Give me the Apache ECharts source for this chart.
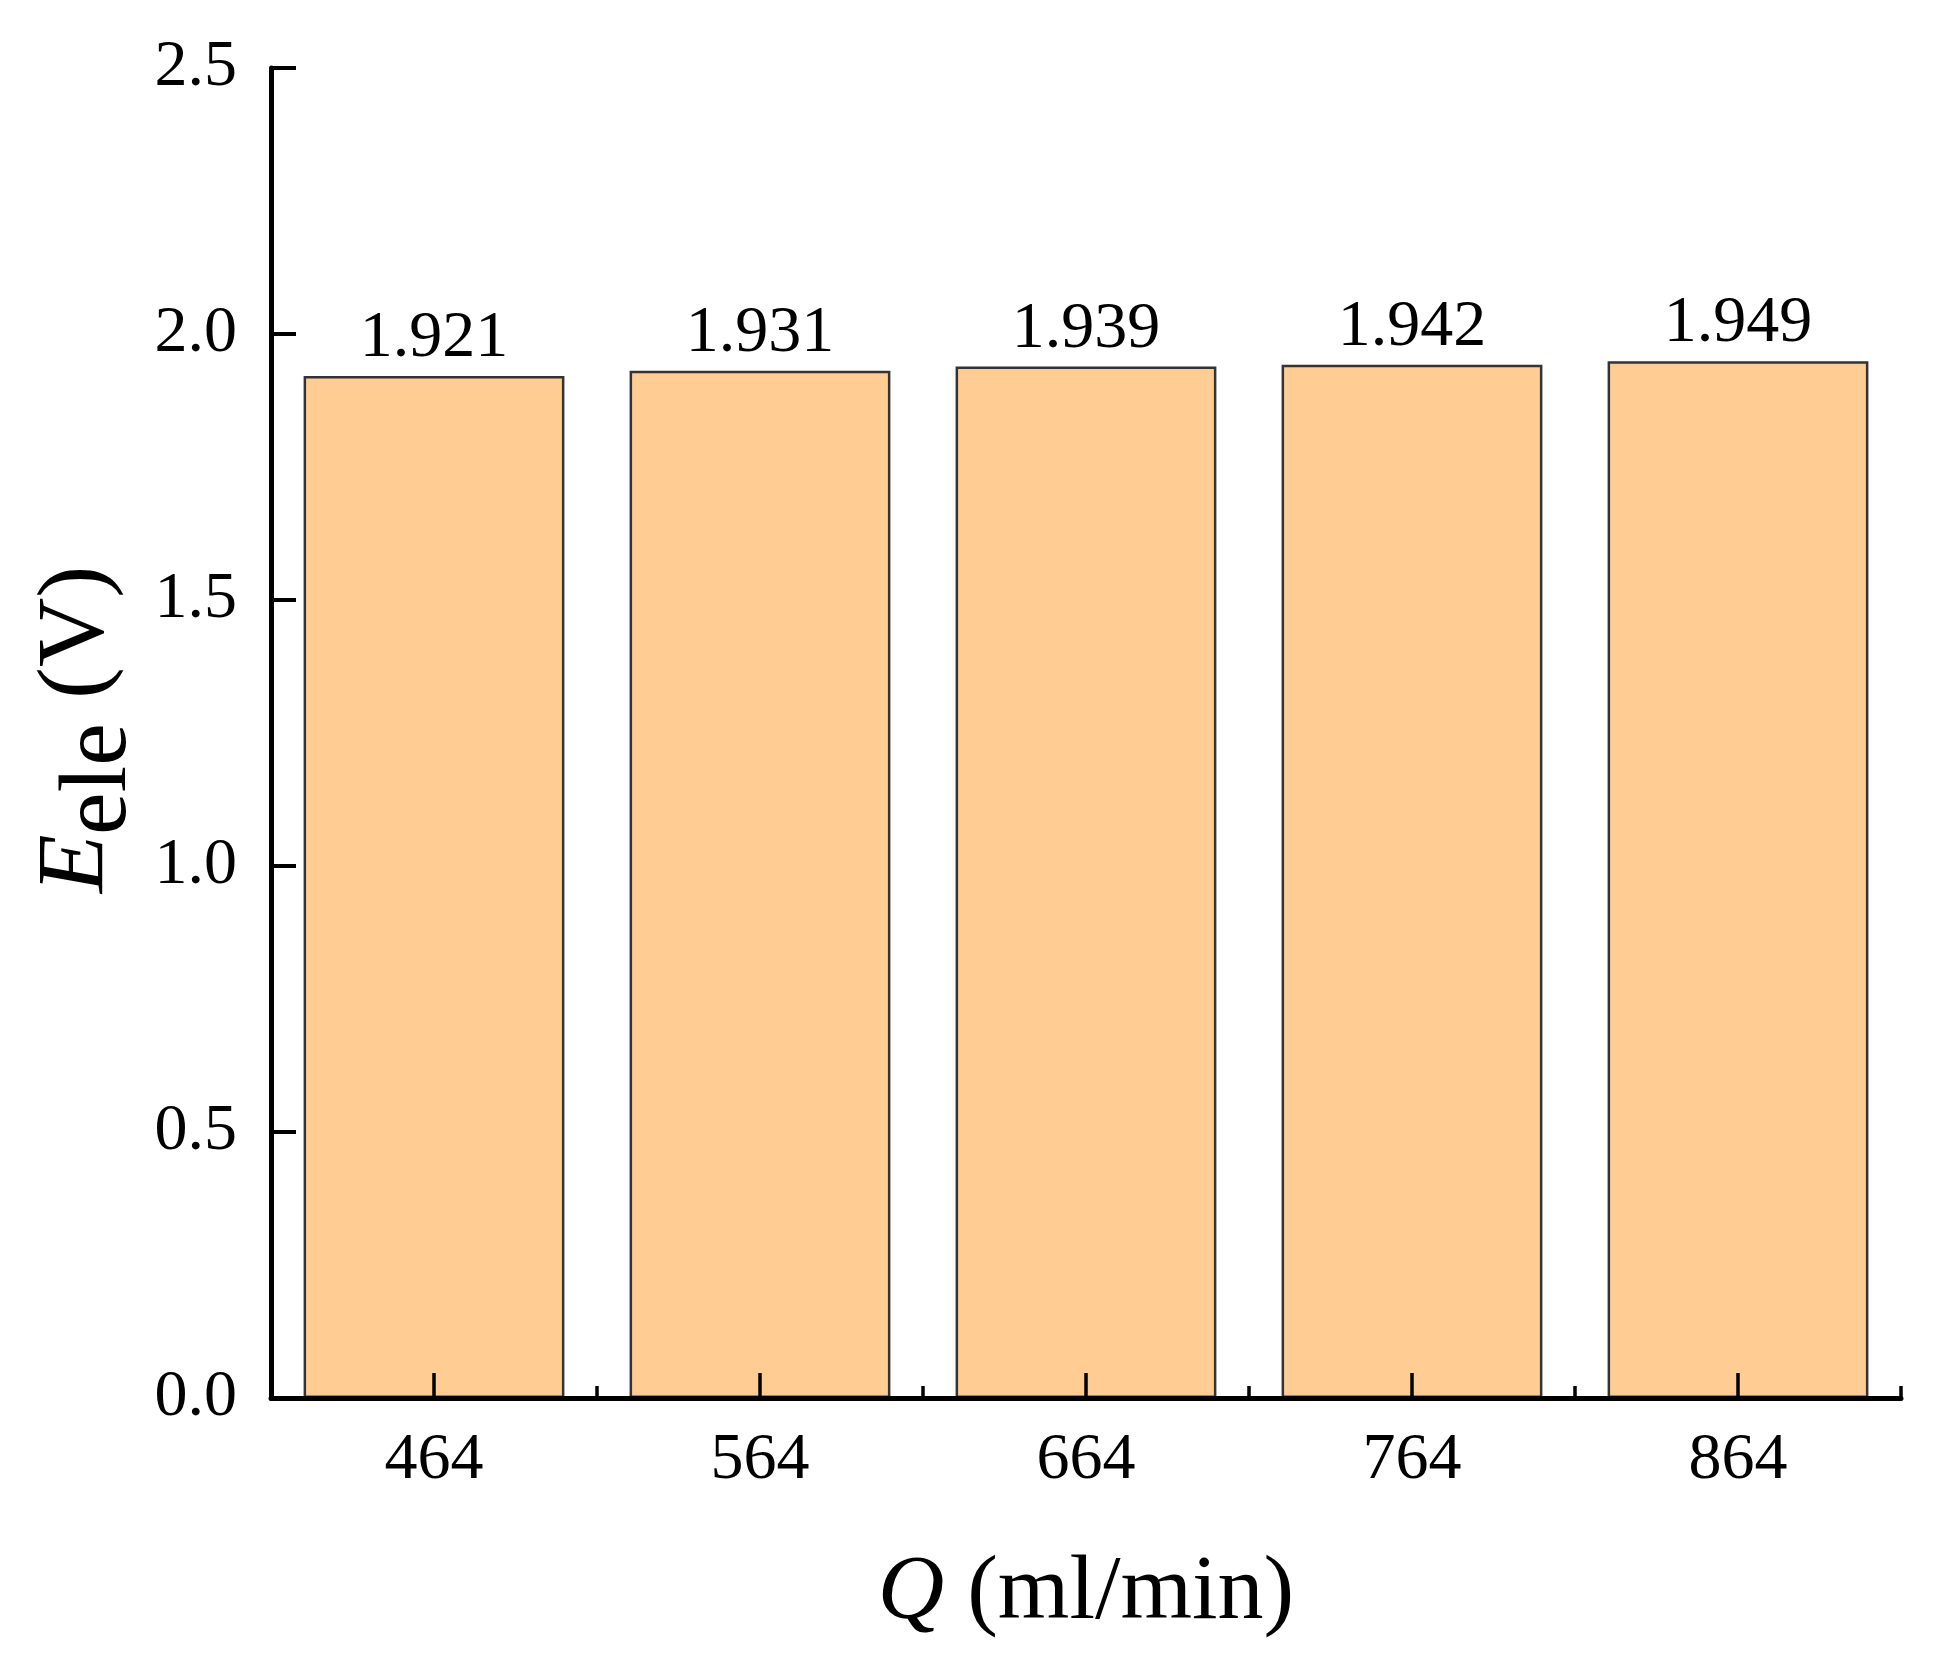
<!DOCTYPE html>
<html>
<head>
<meta charset="utf-8">
<script src="https://cdn.jsdelivr.net/npm/echarts@6/dist/echarts.min.js"></script>
<style>
html,body{margin:0;padding:0;background:#fff;}
#chart{width:1942px;height:1675px;}
</style>
</head>
<body>
<div id="chart"></div>
<script>
const categories = ['464', '564', '664', '764', '864'];
const values = [1.921, 1.931, 1.939, 1.942, 1.949];
const yMin = 0, yMax = 2.5, yStep = 0.5;

const FONT = "'Liberation Serif', 'Times New Roman', serif";
const chart = echarts.init(document.getElementById('chart'));

const option = {
  backgroundColor: '#fff',
  animation: false,
  grid: { left: 271, right: 41, top: 68, bottom: 277 },
  xAxis: [
    {
      type: 'category',
      data: categories,
      z: 5,
      axisLine: { show: true, lineStyle: { color: '#000', width: 5 } },
      axisTick: { show: true, alignWithLabel: true, inside: true, length: 25, lineStyle: { color: '#000', width: 3.5 } },
      axisLabel: { show: true, fontSize: 66, color: '#000', fontFamily: FONT, margin: 30 },
      splitLine: { show: false },
      name: '{i|Q} (ml/min)',
      nameLocation: 'middle',
      nameGap: 150,
      nameTextStyle: {
        fontSize: 92, color: '#000', fontFamily: FONT,
        rich: { i: { fontSize: 92, fontStyle: 'italic', color: '#000', fontFamily: FONT } }
      }
    },
    {
      type: 'category',
      data: categories,
      position: 'bottom',
      z: 5,
      axisLine: { show: false },
      axisTick: { show: true, inside: true, length: 12, lineStyle: { color: '#000', width: 3.5 } },
      axisLabel: { show: false },
      splitLine: { show: false }
    }
  ],
  yAxis: {
    type: 'value',
    min: yMin, max: yMax, interval: yStep,
    axisLine: { show: true, lineStyle: { color: '#000', width: 5 } },
    axisTick: { show: true, inside: true, length: 25, lineStyle: { color: '#000', width: 4 } },
    axisLabel: { fontSize: 66, color: '#000', fontFamily: FONT, margin: 34, formatter: v => v.toFixed(1) },
    splitLine: { show: false }
  },
  graphic: [
    {
      type: 'group',
      x: 30, y: 893,
      rotation: Math.PI / 2,
      children: [
        { type: 'text', x: 0, y: 0, style: { text: 'E', font: "italic 96px 'Liberation Serif'", fill: '#000' } },
        { type: 'text', x: 58, y: 22, style: { text: 'ele', font: "96px 'Liberation Serif'", fill: '#000' } },
        { type: 'text', x: 170, y: 0, style: { text: ' (V)', font: "96px 'Liberation Serif'", fill: '#000' } }
      ]
    }
  ],
  series: [
    {
      type: 'bar',
      data: values,
      barWidth: '80%',
      itemStyle: { color: '#FFCC94', borderColor: '#333', borderWidth: 2.5 },
      label: {
        show: true, position: 'top', distance: 4,
        fontSize: 66, color: '#000', fontFamily: FONT,
        formatter: p => p.value.toFixed(3)
      }
    }
  ]
};
chart.setOption(option);
</script>
</body>
</html>
